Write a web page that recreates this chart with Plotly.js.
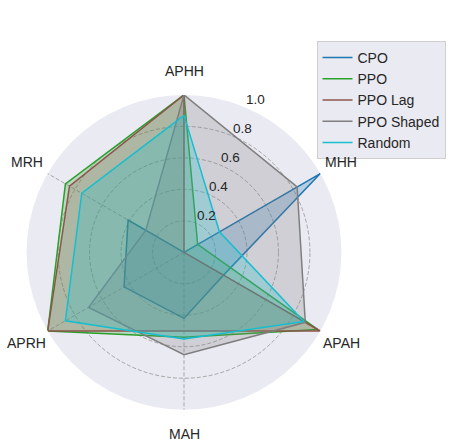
<!DOCTYPE html>
<html>
<head>
<meta charset="utf-8">
<script src="https://cdn.plot.ly/plotly-3.0.1.min.js"></script>
<style>html,body{margin:0;padding:0;background:#fff;}#chart{width:450px;height:444px;}</style>
</head>
<body>
<div id="chart"></div>
<script>
const categories = ['APHH', 'MHH', 'APAH', 'MAH', 'APRH', 'MRH'];
const seriesNames = ['CPO', 'PPO', 'PPO Lag', 'PPO Shaped', 'Random'];
const cpo       = [0.00, 1.00, 0.29, 0.42, 0.44, 0.41];
const ppo       = [1.00, 0.10, 0.98, 0.54, 1.00, 0.87];
const ppoLag    = [1.00, 0.00, 1.00, 0.50, 1.00, 0.84];
const ppoShaped = [1.00, 0.83, 0.89, 0.65, 0.70, 0.28];
const random    = [0.87, 0.26, 0.88, 0.55, 0.87, 0.75];
const radialTicks = [0.2, 0.4, 0.6, 0.8, 1.0];
const radialTickText = ['0.2', '0.4', '0.6', '0.8', '1.0'];

const seriesValues = [cpo, ppo, ppoLag, ppoShaped, random];
const colors = ['#1f77b4', '#2ca02c', '#8c564b', '#7f7f7f', '#17becf'];
const fills = ['rgba(31,119,180,0.25)', 'rgba(44,160,44,0.25)', 'rgba(140,86,75,0.25)', 'rgba(127,127,127,0.25)', 'rgba(23,190,207,0.25)'];

const closed = arr => arr.concat([arr[0]]);
const theta = closed(categories);
const traces = [];
seriesValues.forEach((vals, i) => {
  traces.push({
    type: 'scatterpolar', mode: 'lines', r: closed(vals), theta: theta,
    name: seriesNames[i], line: {color: colors[i], width: 1.5},
    showlegend: true, hoverinfo: 'skip'
  });
  traces.push({
    type: 'scatterpolar', mode: 'lines', r: closed(vals), theta: theta,
    name: seriesNames[i], fill: 'toself', fillcolor: fills[i],
    line: {color: 'rgba(0,0,0,0)', width: 0},
    showlegend: false, hoverinfo: 'skip'
  });
});

const font = {family: '"Liberation Sans", Arial, sans-serif', size: 14, color: '#262626'};
const tickFont = {family: '"Liberation Sans", Arial, sans-serif', size: 13.5, color: '#262626'};
const cx = 184, cy = 252.3, R = 157.4, W = 450, H = 444;
const labelR = 181.5;
const rAxisAngle = 67.5;
// category labels placed outside the circle, centred on each spoke (like matplotlib)
const annotations = categories.map((c, i) => {
  const a = (90 - 360 / categories.length * i) * Math.PI / 180;
  return {
    text: c, showarrow: false, xref: 'paper', yref: 'paper',
    x: (cx + labelR * Math.cos(a)) / W, y: (H - cy + labelR * Math.sin(a)) / H,
    xanchor: 'center', yanchor: 'middle', font: font
  };
});
// radial tick labels beside the 67.5° label line (matplotlib rlabel placement)
const ra = rAxisAngle * Math.PI / 180;
radialTicks.forEach((v, i) => {
  annotations.push({
    text: radialTickText[i], showarrow: false, xref: 'paper', yref: 'paper',
    x: (cx + v * R * Math.cos(ra) + 10.8) / W,
    y: (H - cy + v * R * Math.sin(ra) + 7.7) / H,
    xanchor: 'center', yanchor: 'middle', font: tickFont
  });
});

const gridColor = 'rgba(120,120,120,0.75)';
const layout = {
  width: W, height: H,
  margin: {l: 0, r: 0, t: 0, b: 0},
  paper_bgcolor: '#ffffff',
  font: font,
  showlegend: true,
  annotations: annotations,
  legend: {
    x: 316.5 / W, y: 1 - 41 / H, xanchor: 'left', yanchor: 'top',
    bgcolor: '#EAEAF2', bordercolor: '#cfcfcf', borderwidth: 1,
    font: font
  },
  polar: {
    domain: {x: [(cx - R) / W, (cx + R) / W], y: [(H - cy - R) / H, (H - cy + R) / H]},
    bgcolor: '#EAEAF2',
    angularaxis: {
      direction: 'clockwise', rotation: 90,
      showline: false, linecolor: 'rgba(0,0,0,0)',
      gridcolor: gridColor, gridwidth: 0.8, griddash: '4px,2px',
      ticks: '', showticklabels: false
    },
    radialaxis: {
      range: [0, 1], angle: rAxisAngle,
      tickvals: radialTicks, showticklabels: false,
      showline: false, ticks: '',
      gridcolor: gridColor, gridwidth: 0.8, griddash: '4px,2px'
    }
  }
};
Plotly.newPlot('chart', traces, layout, {staticPlot: true, displayModeBar: false});
</script>
</body>
</html>
